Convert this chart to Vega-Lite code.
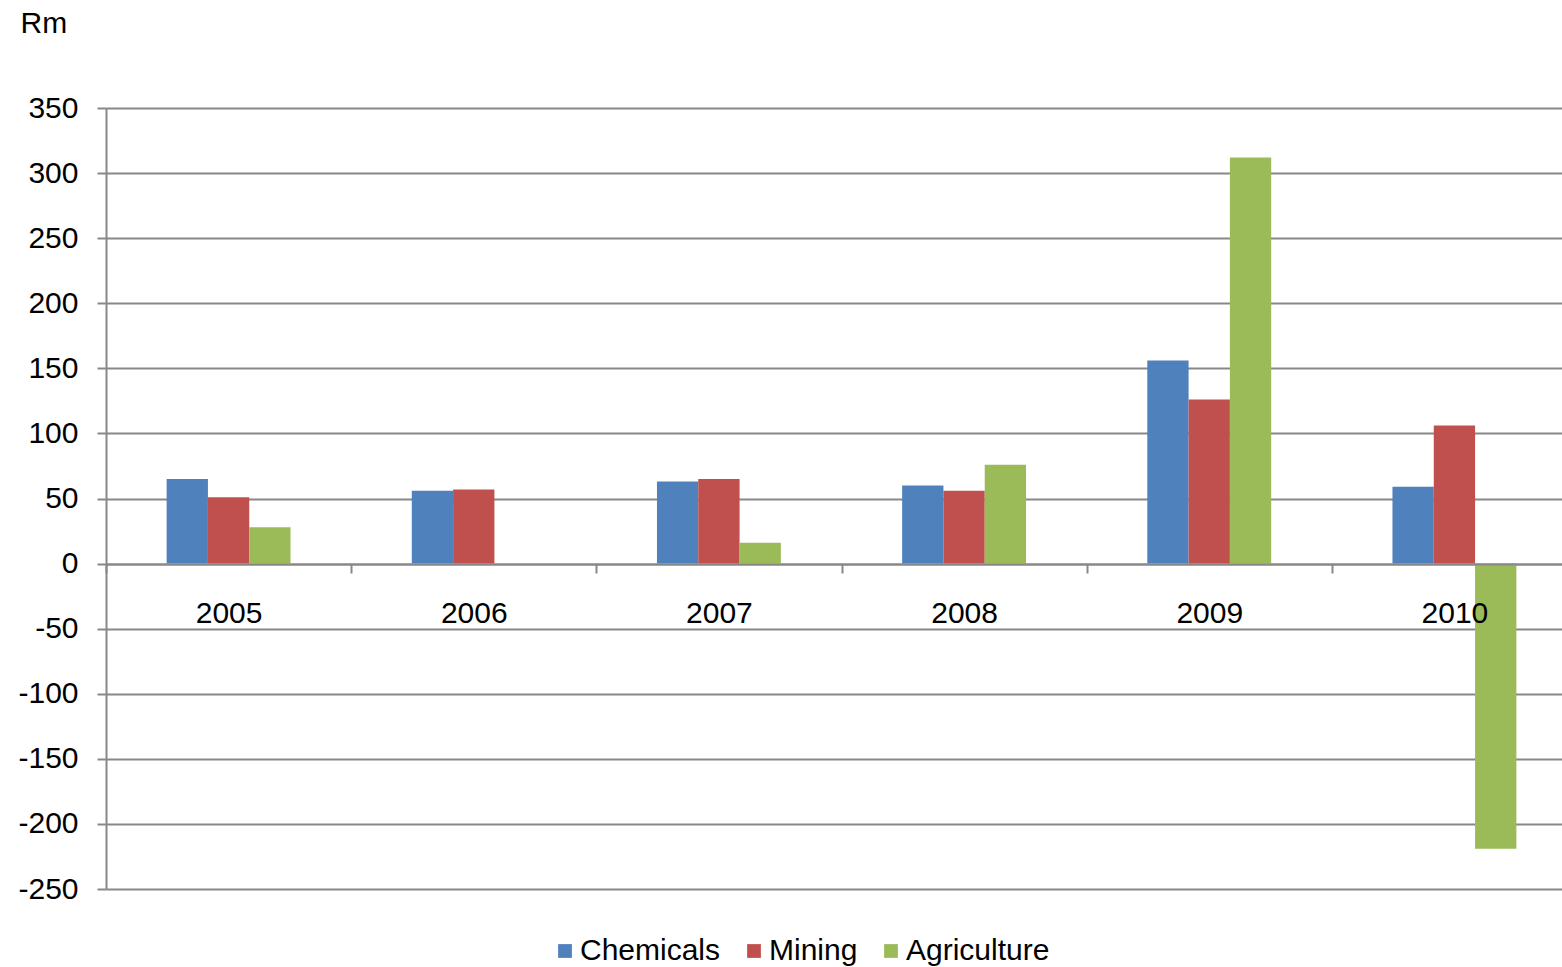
{
  "$schema": "https://vega.github.io/schema/vega-lite/v6.json",
  "width": 1456,
  "height": 781,
  "autosize": {"type": "none"},
  "padding": {"left": 106, "top": 108, "right": 0, "bottom": 78},
  "background": "white",
  "config": {"view": {"stroke": null}, "font": "Liberation Sans"},
  "data": {
    "values": [
      {"year": "2005", "series": "Chemicals", "value": 65},
      {"year": "2005", "series": "Mining", "value": 51},
      {"year": "2005", "series": "Agriculture", "value": 28},
      {"year": "2006", "series": "Chemicals", "value": 56},
      {"year": "2006", "series": "Mining", "value": 57},
      {"year": "2007", "series": "Chemicals", "value": 63},
      {"year": "2007", "series": "Mining", "value": 65},
      {"year": "2007", "series": "Agriculture", "value": 16},
      {"year": "2008", "series": "Chemicals", "value": 60},
      {"year": "2008", "series": "Mining", "value": 56},
      {"year": "2008", "series": "Agriculture", "value": 76},
      {"year": "2009", "series": "Chemicals", "value": 156},
      {"year": "2009", "series": "Mining", "value": 126},
      {"year": "2009", "series": "Agriculture", "value": 312},
      {"year": "2010", "series": "Chemicals", "value": 59},
      {"year": "2010", "series": "Mining", "value": 106},
      {"year": "2010", "series": "Agriculture", "value": -219}
    ]
  },
  "mark": {"type": "bar"},
  "encoding": {
    "x": {
      "field": "year",
      "type": "nominal",
      "scale": {"paddingInner": 0, "paddingOuter": 0, "range": [0, 1471]},
      "axis": {
        "title": null,
        "labelAngle": 0,
        "offset": -325,
        "zindex": 1,
        "domainColor": "#888888",
        "domainWidth": 2,
        "tickColor": "#888888",
        "tickWidth": 2,
        "tickSize": 9,
        "tickBand": "extent",
        "labelFontSize": 30,
        "labelColor": "black",
        "labelPadding": 25
      }
    },
    "xOffset": {
      "field": "series",
      "type": "nominal",
      "scale": {"domain": ["_padL", "Chemicals", "Mining", "Agriculture", "_padR"], "paddingInner": 0, "paddingOuter": 0.468}
    },
    "y": {
      "field": "value",
      "type": "quantitative",
      "scale": {"domain": [-250, 350], "nice": false},
      "axis": {
        "values": [-250, -200, -150, -100, -50, 0, 50, 100, 150, 200, 250, 300, 350],
        "labelExpr": "'' + datum.value",
        "title": "Rm",
        "titleAngle": 0,
        "titleX": -86,
        "titleY": -85,
        "titleAlign": "left",
        "titleBaseline": "middle",
        "titleFontSize": 30,
        "titleFontWeight": "normal",
        "titleColor": "black",
        "labelFontSize": 30,
        "labelColor": "black",
        "labelPadding": 19,
        "gridColor": "#888888",
        "gridWidth": 2,
        "gridOpacity": 1,
        "domainColor": "#888888",
        "domainWidth": 2,
        "tickColor": "#888888",
        "tickWidth": 2,
        "tickSize": 9
      }
    },
    "color": {
      "field": "series",
      "type": "nominal",
      "scale": {"domain": ["Chemicals", "Mining", "Agriculture"], "range": ["#4F81BD", "#C0504D", "#9BBB59"]},
      "legend": {
        "title": null,
        "orient": "none",
        "direction": "horizontal",
        "legendX": 444,
        "legendY": 828,
        "padding": 0,
        "symbolType": "square",
        "symbolSize": 190,
        "symbolStrokeWidth": 0,
        "symbolOpacity": 1,
        "labelFontSize": 30,
        "labelColor": "black",
        "labelOffset": 0,
        "columnPadding": 18
      }
    }
  }
}
